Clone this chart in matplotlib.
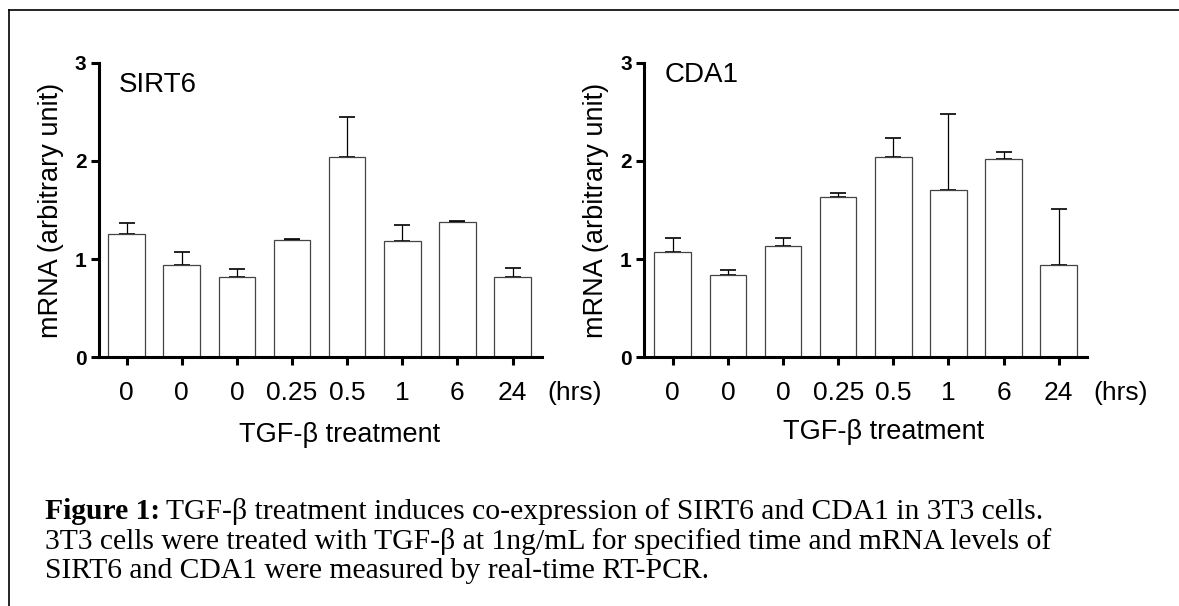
import matplotlib
matplotlib.use('Agg')
import matplotlib.pyplot as plt
from matplotlib.lines import Line2D

# data
time_labels = ['0', '0', '0', '0.25', '0.5', '1', '6', '24']
sirt6_mean = [1.26, 0.94, 0.82, 1.195, 2.04, 1.18, 1.378, 0.818]
sirt6_err = [0.105, 0.13, 0.075, 0.013, 0.41, 0.165, 0.013, 0.094]
cda1_mean = [1.075, 0.835, 1.133, 1.629, 2.043, 1.70, 2.016, 0.94]
cda1_err = [0.143, 0.057, 0.082, 0.047, 0.193, 0.78, 0.078, 0.57]

W, H = 1179, 606
plt.rcParams['font.family'] = ['Liberation Sans', 'DejaVu Sans']
fig = plt.figure(figsize=(W / 100, H / 100), dpi=100)


def px_axes(x0, x1, y_top, y_bot):
    return fig.add_axes([x0 / W, 1 - y_bot / H, (x1 - x0) / W, (y_bot - y_top) / H])


def draw_panel(ax, means, errs, title, title_xy, xlim):
    x = list(range(len(means)))
    ax.bar(x, means, width=0.665, color='white', edgecolor='#444444', linewidth=0.9, zorder=2)
    ax.errorbar(x, means, yerr=[[0] * len(errs), errs], fmt='none', ecolor='black',
                elinewidth=0.9, capsize=6, capthick=1.2, zorder=1)
    ax.set_xlim(*xlim)
    ax.set_ylim(0, 3)
    ax.set_yticks([0, 1, 2, 3])
    ax.set_yticklabels(['0', '1', '2', '3'], fontsize=15, fontweight='bold')
    ax.set_xticks(x)
    ax.set_xticklabels(time_labels, fontsize=19)
    for s in ['top', 'right']:
        ax.spines[s].set_visible(False)
    for s in ['left', 'bottom']:
        ax.spines[s].set_linewidth(2.2)
    ax.tick_params(axis='both', direction='out', length=6, width=2.2)
    ax.tick_params(axis='x', pad=11)
    ax.tick_params(axis='y', pad=3)
    ax.set_ylabel('mRNA (arbitrary unit)', fontsize=19.5, labelpad=8)
    ax.text(title_xy[0], title_xy[1], title, fontsize=20, transform=None, va='center', ha='left')


ax1 = px_axes(99, 542.3, 62.7, 357.3)
ax2 = px_axes(644.3, 1087.3, 62.7, 357.3)


def to_disp(xp, yp):
    return xp, H - yp


draw_panel(ax1, sirt6_mean, sirt6_err, 'SIRT6', to_disp(119, 85), (-0.50, 7.54))
draw_panel(ax2, cda1_mean, cda1_err, 'CDA1', to_disp(665, 75), (-0.516, 7.52))

# extra labels
fig.text(574.5 / W, 1 - 393 / H, '(hrs)', fontsize=19, ha='center', va='center')
fig.text(1120.7 / W, 1 - 393 / H, '(hrs)', fontsize=19, ha='center', va='center')
fig.text(339.7 / W, 1 - 435 / H, 'TGF-\u03b2 treatment', fontsize=19.5, ha='center', va='center')
fig.text(884 / W, 1 - 431.7 / H, 'TGF-\u03b2 treatment', fontsize=19.5, ha='center', va='center')

# caption
cap_font = ['Liberation Serif', 'DejaVu Serif']
cap_size = 21.3
x0 = 45 / W
r = fig.canvas.get_renderer()
t = fig.text(x0, 1 - 519 / H, 'Figure 1:', fontsize=cap_size, fontweight='bold',
             family=cap_font, va='baseline')
bw = t.get_window_extent(renderer=r).width
fig.text(x0 + (bw + 6) / W, 1 - 519 / H,
         'TGF-\u03b2 treatment induces co-expression of SIRT6 and CDA1 in 3T3 cells.',
         fontsize=cap_size, family=cap_font, va='baseline')
fig.text(x0, 1 - 549 / H,
         '3T3 cells were treated with TGF-\u03b2 at 1ng/mL for specified time and mRNA levels of',
         fontsize=cap_size, family=cap_font, va='baseline')
fig.text(x0, 1 - 578 / H, 'SIRT6 and CDA1 were measured by real-time RT-PCR.',
         fontsize=cap_size, family=cap_font, va='baseline')

# frame (left and top edges of the surrounding box)
fig.add_artist(Line2D([9.5 / W, 9.5 / W], [0, 1 - 9.5 / H], color='black', lw=1.2))
fig.add_artist(Line2D([9.5 / W, 1], [1 - 9.5 / H, 1 - 9.5 / H], color='black', lw=1.2))

plt.savefig('out.png', dpi=100)
